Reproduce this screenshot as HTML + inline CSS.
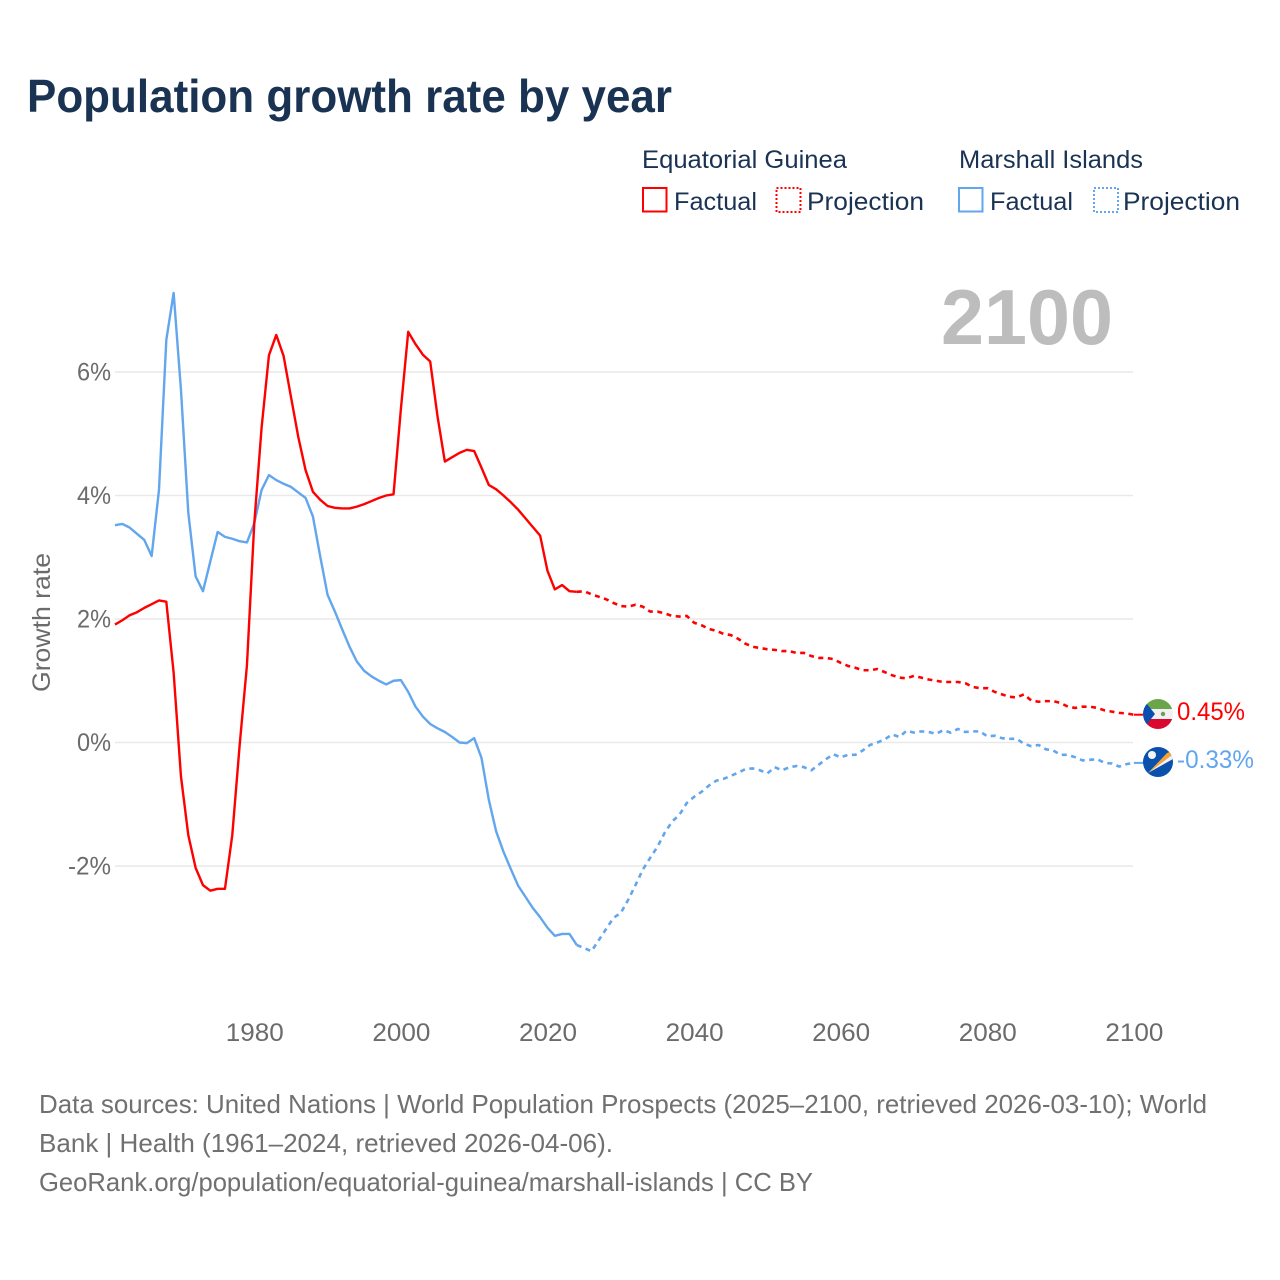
<!DOCTYPE html>
<html lang="en">
<head>
<meta charset="utf-8">
<title>Population growth rate by year</title>
<style>
html,body{margin:0;padding:0;background:#fff;width:1280px;height:1280px;overflow:hidden}
svg{display:block}
text{font-family:"Liberation Sans",sans-serif}
</style>
</head>
<body>
<svg id="chart" xmlns="http://www.w3.org/2000/svg" width="1280" height="1280" viewBox="0 0 1280 1280">
  <defs>
    <clipPath id="flag-clip-eq"><circle cx="1158" cy="714" r="15"/></clipPath>
    <clipPath id="flag-clip-mh"><circle cx="1158" cy="762" r="15"/></clipPath>
  </defs>
  <rect x="0" y="0" width="1280" height="1280" fill="#fff"/>

  <text x="27" y="112" font-size="46" font-weight="700" fill="#1a3353" textLength="645" lengthAdjust="spacingAndGlyphs">Population growth rate by year</text>

  <g>
    <text x="642" y="168" font-size="25" fill="#1a3353" textLength="205" lengthAdjust="spacingAndGlyphs">Equatorial Guinea</text>
    <text x="959" y="168" font-size="25" fill="#1a3353" textLength="184" lengthAdjust="spacingAndGlyphs">Marshall Islands</text>
    <rect x="643" y="188" width="23.5" height="23.5" fill="none" stroke="#ff0000" stroke-width="2"/>
    <text x="674" y="210" font-size="25" fill="#1a3353" textLength="83" lengthAdjust="spacingAndGlyphs">Factual</text>
    <rect x="776.5" y="188" width="24" height="24" fill="none" stroke="#ff0000" stroke-width="2" stroke-dasharray="2 2"/>
    <text x="807" y="210" font-size="25" fill="#1a3353" textLength="117" lengthAdjust="spacingAndGlyphs">Projection</text>
    <rect x="959" y="188" width="23.5" height="23.5" fill="none" stroke="#62a6ee" stroke-width="2"/>
    <text x="990" y="210" font-size="25" fill="#1a3353" textLength="83" lengthAdjust="spacingAndGlyphs">Factual</text>
    <rect x="1094" y="188" width="24" height="24" fill="none" stroke="#62a6ee" stroke-width="2" stroke-dasharray="2 2"/>
    <text x="1123" y="210" font-size="25" fill="#1a3353" textLength="117" lengthAdjust="spacingAndGlyphs">Projection</text>
  </g>

  <text x="941" y="344" font-size="78" font-weight="700" fill="#bdbdbd" textLength="172" lengthAdjust="spacingAndGlyphs">2100</text>

  <text transform="translate(50,692) rotate(-90)" x="0" y="0" font-size="25" fill="#6b6b6b" textLength="139" lengthAdjust="spacingAndGlyphs">Growth rate</text>

  <g id="grid"></g>
  <g id="yticks"></g>
  <g id="xticks"></g>
  <g id="series"></g>

  <g clip-path="url(#flag-clip-eq)">
    <rect x="1143" y="699" width="30" height="10" fill="#6ba54a"/>
    <rect x="1143" y="709" width="30" height="10" fill="#f1f1f1"/>
    <rect x="1143" y="719" width="30" height="10" fill="#d9082f"/>
    <polygon points="1143,699 1155,714 1143,729" fill="#0a4fb0"/>
    <circle cx="1163" cy="714" r="2.2" fill="#6f9a5a"/>
  </g>
  <g clip-path="url(#flag-clip-mh)">
    <rect x="1143" y="747" width="30" height="30" fill="#0a50ad"/>
    <polygon points="1148,773 1167,753 1171,751.5 1172,755" fill="#f7a233"/>
    <polygon points="1148,773 1172,755 1173,759" fill="#f2f2f2"/>
    <circle cx="1152" cy="755" r="4" fill="#f4f4f4"/>
  </g>

  <text x="1177" y="720" font-size="25" fill="#ff0000" textLength="68" lengthAdjust="spacingAndGlyphs">0.45%</text>
  <text x="1177" y="768" font-size="25" fill="#62a6ee" textLength="77" lengthAdjust="spacingAndGlyphs">-0.33%</text>

  <g>
    <text x="39" y="1113" font-size="26" fill="#707070" textLength="1168" lengthAdjust="spacingAndGlyphs">Data sources: United Nations | World Population Prospects (2025–2100, retrieved 2026-03-10); World</text>
    <text x="39" y="1152" font-size="26" fill="#707070" textLength="574" lengthAdjust="spacingAndGlyphs">Bank | Health (1961–2024, retrieved 2026-04-06).</text>
    <text x="39" y="1191" font-size="26" fill="#707070" textLength="774" lengthAdjust="spacingAndGlyphs">GeoRank.org/population/equatorial-guinea/marshall-islands | CC BY</text>
  </g>
</svg>
<script>
const factualStartYear = 1961;
const projectionStartYear = 2024;
const eqFactual = [1.91,1.98,2.06,2.11,2.18,2.24,2.30,2.28,1.13,-0.55,-1.50,-2.03,-2.31,-2.40,-2.37,-2.37,-1.50,-0.05,1.25,3.55,5.10,6.27,6.60,6.26,5.60,4.95,4.41,4.06,3.93,3.83,3.80,3.79,3.79,3.82,3.86,3.91,3.96,4.00,4.02,5.40,6.65,6.45,6.28,6.17,5.28,4.55,4.62,4.69,4.74,4.72,4.45,4.17,4.10,4.00,3.89,3.77,3.63,3.49,3.35,2.78,2.48,2.55,2.45,2.44];
const eqProjection = [2.44,2.45,2.40,2.36,2.32,2.26,2.21,2.20,2.23,2.20,2.12,2.12,2.09,2.05,2.04,2.05,1.94,1.90,1.84,1.81,1.76,1.74,1.68,1.60,1.55,1.53,1.51,1.50,1.48,1.48,1.45,1.45,1.40,1.37,1.37,1.35,1.29,1.24,1.21,1.17,1.17,1.19,1.14,1.09,1.05,1.04,1.08,1.05,1.02,1.00,0.98,0.98,0.98,0.96,0.90,0.88,0.88,0.82,0.78,0.74,0.73,0.78,0.68,0.66,0.67,0.67,0.64,0.58,0.56,0.58,0.58,0.56,0.52,0.50,0.48,0.47,0.45];
const mhFactual = [3.52,3.54,3.48,3.38,3.28,3.02,4.09,6.52,7.28,5.71,3.72,2.69,2.45,2.93,3.41,3.33,3.30,3.26,3.24,3.55,4.09,4.33,4.25,4.19,4.14,4.05,3.96,3.66,3.01,2.39,2.12,1.83,1.55,1.31,1.16,1.07,1.00,0.94,1.00,1.01,0.82,0.58,0.42,0.30,0.23,0.17,0.09,0.00,-0.01,0.07,-0.25,-0.93,-1.44,-1.77,-2.05,-2.32,-2.50,-2.68,-2.83,-3.00,-3.13,-3.10,-3.10,-3.28];
const mhProjection = [-3.28,-3.33,-3.38,-3.20,-3.02,-2.84,-2.76,-2.55,-2.31,-2.06,-1.87,-1.69,-1.46,-1.28,-1.17,-0.98,-0.88,-0.80,-0.70,-0.62,-0.59,-0.54,-0.49,-0.43,-0.42,-0.45,-0.50,-0.40,-0.45,-0.40,-0.38,-0.40,-0.45,-0.36,-0.27,-0.19,-0.24,-0.20,-0.20,-0.13,-0.04,0.00,0.05,0.13,0.09,0.19,0.16,0.18,0.17,0.14,0.20,0.16,0.22,0.17,0.18,0.18,0.10,0.11,0.07,0.06,0.06,-0.02,-0.06,-0.04,-0.11,-0.13,-0.20,-0.20,-0.24,-0.29,-0.28,-0.27,-0.33,-0.34,-0.39,-0.35,-0.33];
const xTickLabels = [1980,2000,2020,2040,2060,2080,2100];
const yTickLabels = [-2,0,2,4,6];

const NS = 'http://www.w3.org/2000/svg';
const xScale = function (year) { return 115 + (year - 1961) * (1018.9 / 139); };
const yScale = function (value) { return 742.5 - value * 61.75; };

function linePath(startYear, values) {
  return values.map(function (v, i) {
    return (i ? 'L' : 'M') + xScale(startYear + i).toFixed(2) + ' ' + yScale(v).toFixed(2);
  }).join(' ');
}

const grid = document.getElementById('grid');
const yticks = document.getElementById('yticks');
const xticks = document.getElementById('xticks');
const seriesGroup = document.getElementById('series');

yTickLabels.forEach(function (v) {
  const line = document.createElementNS(NS, 'line');
  
  
  line.setAttribute('x1', 115);
  line.setAttribute('x2', 1133);
  line.setAttribute('y1', yScale(v));
  line.setAttribute('y2', yScale(v));
  line.setAttribute('stroke', '#e9e9e9');
  line.setAttribute('stroke-width', '1.5');
  grid.appendChild(line);

  const t = document.createElementNS(NS, 'text');
  
  
  t.setAttribute('x', 111);
  t.setAttribute('y', yScale(v) + 8.5);
  t.setAttribute('text-anchor', 'end');
  t.setAttribute('font-size', '25');
  t.setAttribute('fill', '#6b6b6b');
  t.setAttribute('textLength', v < 0 ? '43' : '34');
  t.setAttribute('lengthAdjust', 'spacingAndGlyphs');
  t.textContent = v + '%';
  yticks.appendChild(t);
});

xTickLabels.forEach(function (y) {
  const t = document.createElementNS(NS, 'text');
  
  
  t.setAttribute('x', xScale(y) + 0.5);
  t.setAttribute('y', 1041);
  t.setAttribute('text-anchor', 'middle');
  t.setAttribute('font-size', '25');
  t.setAttribute('fill', '#6b6b6b');
  t.setAttribute('textLength', '58');
  t.setAttribute('lengthAdjust', 'spacingAndGlyphs');
  t.textContent = y;
  xticks.appendChild(t);
});

function addLine(name, startYear, values, color, dashed) {
  const p = document.createElementNS(NS, 'path');
  
  
  p.setAttribute('d', linePath(startYear, values));
  p.setAttribute('fill', 'none');
  p.setAttribute('stroke', color);
  p.setAttribute('stroke-width', dashed ? '2.6' : '2.4');
  p.setAttribute('stroke-linejoin', 'round');
  if (dashed) { p.setAttribute('stroke-dasharray', '5 4.5'); }
  seriesGroup.appendChild(p);
}

function addLeader(name, value, color) {
  const l = document.createElementNS(NS, 'line');
  
  
  l.setAttribute('x1', xScale(2100));
  l.setAttribute('x2', 1145);
  l.setAttribute('y1', yScale(value));
  l.setAttribute('y2', yScale(value));
  l.setAttribute('stroke', color);
  l.setAttribute('stroke-width', '2');
  seriesGroup.appendChild(l);
}

addLine('eq-projection-line', projectionStartYear, eqProjection, '#ff0000', true);
addLine('mh-projection-line', projectionStartYear, mhProjection, '#62a6ee', true);
addLine('mh-factual-line', factualStartYear, mhFactual, '#62a6ee', false);
addLine('eq-factual-line', factualStartYear, eqFactual, '#ff0000', false);
addLeader('eq-end-leader', eqProjection[eqProjection.length - 1], '#ff0000');
addLeader('mh-end-leader', mhProjection[mhProjection.length - 1], '#62a6ee');
</script>
</body>
</html>
